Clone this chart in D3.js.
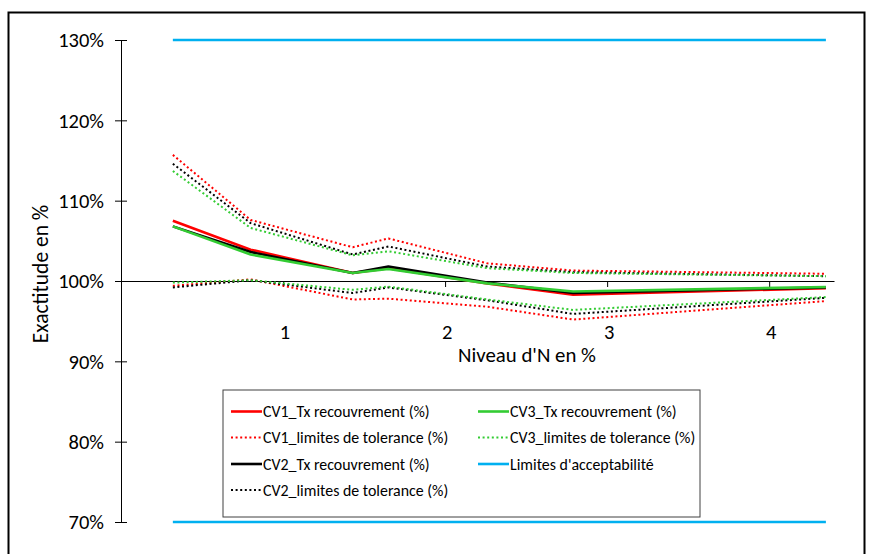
<!DOCTYPE html>
<html>
<head>
<meta charset="utf-8">
<script src="https://cdn.jsdelivr.net/npm/d3@7"></script>
<style>
  html, body { margin: 0; padding: 0; background: #fff; }
  svg { display: block; font-family: Calibri, Carlito, Lato, sans-serif; }
</style>
</head>
<body>
<svg id="chart" width="872" height="554"></svg>
<script>
// ---- data ----
const xValues = [0.32, 0.80, 1.43, 1.65, 2.26, 2.79, 4.35];
const cv1Tx    = [107.5, 103.9, 101.0, 101.6, 99.7, 98.3, 99.1];
const cv1Upper = [115.7, 107.6, 104.2, 105.3, 102.2, 101.3, 100.9];
const cv1Lower = [99.4, 100.2, 97.7, 97.8, 96.8, 95.2, 97.5];
const cv2Tx    = [106.8, 103.6, 101.0, 101.8, 99.8, 98.5, 99.2];
const cv2Upper = [114.6, 107.2, 103.3, 104.3, 101.8, 101.1, 100.6];
const cv2Lower = [99.2, 100.1, 98.5, 99.2, 97.6, 95.9, 97.9];
const cv3Tx    = [106.8, 103.3, 101.0, 101.5, 99.7, 98.7, 99.25];
const cv3Upper = [113.7, 106.6, 103.2, 103.7, 101.6, 101.0, 100.6];
const cv3Lower = [99.8, 100.1, 98.9, 99.3, 97.7, 96.4, 98.0];
const limitX = [0.32, 4.35];
const limitHigh = [130, 130];
const limitLow = [70, 70];
const xTicks = [1, 2, 3, 4];
const yTicks = [70, 80, 90, 100, 110, 120, 130];
const legendLabels = [
  "CV1_Tx recouvrement (%)", "CV1_limites de tolerance (%)",
  "CV2_Tx recouvrement (%)", "CV2_limites de tolerance (%)",
  "CV3_Tx recouvrement (%)", "CV3_limites de tolerance (%)",
  "Limites d'acceptabilité"
];

const RED = "#FF0000", BLACK = "#000000", GREEN = "#33CC33", BLUE = "#00B0F0";

const svg = d3.select("#chart");

// outer frame
svg.append("rect").attr("x", 8.5).attr("y", 12.5).attr("width", 856).attr("height", 560)
  .attr("fill", "none").attr("stroke", "#000").attr("stroke-width", 2);

const x = d3.scaleLinear().domain([0, 4.4]).range([121, 834]);
const y = d3.scaleLinear().domain([70, 130]).range([522, 40]);

// y axis
const yAxis = svg.append("g").attr("transform", `translate(${x(0)},0)`)
  .call(d3.axisLeft(y).tickValues(yTicks).tickSizeInner(0).tickSizeOuter(0).tickFormat(() => ""));
yAxis.select(".domain").attr("stroke", "#000").attr("stroke-width", 1);
yAxis.selectAll(".tick line").remove();
yAxis.selectAll(".tick").append("line").attr("x1", -6).attr("x2", 6).attr("stroke", "#000");
yAxis.selectAll(".tick text").remove();
svg.append("g").selectAll("text").data(yTicks).join("text")
  .attr("x", 104).attr("y", d => y(d)).attr("dy", "0.35em")
  .attr("text-anchor", "end").attr("font-size", 20.5).attr("fill", "#000")
  .text(d => d + "%");

// x axis at 100%
const xAxis = svg.append("g").attr("transform", `translate(0,${y(100)})`)
  .call(d3.axisBottom(x).tickValues(xTicks).tickSizeInner(6).tickSizeOuter(0).tickFormat(""));
xAxis.select(".domain").attr("stroke", "#000").attr("stroke-width", 1.2);
xAxis.selectAll(".tick line").attr("stroke", "#000");
svg.append("g").selectAll("text").data(xTicks).join("text")
  .attr("x", d => x(d) + 2).attr("y", 339)
  .attr("text-anchor", "middle").attr("font-size", 20.5).attr("fill", "#000")
  .text(d => d);

// axis titles
svg.append("text").attr("x", 527).attr("y", 362).attr("text-anchor", "middle")
  .attr("font-size", 20.8).attr("fill", "#000").text("Niveau d'N en %");
svg.append("text").attr("transform", "translate(48,274) rotate(-90)")
  .attr("text-anchor", "middle").attr("font-size", 21.5).attr("fill", "#000").text("Exactitude en %");

// lines
const line = d3.line().x(d => x(d[0])).y(d => y(d[1]));
const zipX = (arr, xs = xValues) => xs.map((v, i) => [v, arr[i]]);

const series = [
  { data: cv1Tx, color: RED, dotted: false },
  { data: cv1Upper, color: RED, dotted: true },
  { data: cv1Lower, color: RED, dotted: true },
  { data: cv2Tx, color: BLACK, dotted: false },
  { data: cv2Upper, color: BLACK, dotted: true },
  { data: cv2Lower, color: BLACK, dotted: true },
  { data: cv3Tx, color: GREEN, dotted: false },
  { data: cv3Upper, color: GREEN, dotted: true },
  { data: cv3Lower, color: GREEN, dotted: true }
];
const gLines = svg.append("g");
series.forEach(s => {
  gLines.append("path").attr("d", line(zipX(s.data)))
    .attr("fill", "none").attr("stroke", s.color)
    .attr("stroke-width", s.dotted ? 2 : 2.6)
    .attr("stroke-dasharray", s.dotted ? "2 2.6" : null)
    .attr("stroke-linejoin", "round");
});
[limitHigh, limitLow].forEach(arr => {
  gLines.append("path").attr("d", line(zipX(arr, limitX)))
    .attr("fill", "none").attr("stroke", BLUE).attr("stroke-width", 2.6);
});

// legend
const lg = svg.append("g");
lg.append("rect").attr("x", 223).attr("y", 390).attr("width", 477).attr("height", 127)
  .attr("fill", "#fff").attr("stroke", "#404040").attr("stroke-width", 1);
const legendItems = [
  { label: legendLabels[0], color: RED, dotted: false, col: 0, row: 0 },
  { label: legendLabels[1], color: RED, dotted: true, col: 0, row: 1 },
  { label: legendLabels[2], color: BLACK, dotted: false, col: 0, row: 2 },
  { label: legendLabels[3], color: BLACK, dotted: true, col: 0, row: 3 },
  { label: legendLabels[4], color: GREEN, dotted: false, col: 1, row: 0 },
  { label: legendLabels[5], color: GREEN, dotted: true, col: 1, row: 1 },
  { label: legendLabels[6], color: BLUE, dotted: false, col: 1, row: 2 }
];
const colX = [231, 478];
const rowY = [411.5, 437.5, 464, 490];
legendItems.forEach(it => {
  const lx = colX[it.col], ly = rowY[it.row];
  lg.append("line").attr("x1", lx).attr("x2", lx + 31).attr("y1", ly).attr("y2", ly)
    .attr("stroke", it.color).attr("stroke-width", it.dotted ? 2 : 2.6)
    .attr("stroke-dasharray", it.dotted ? "2 2.6" : null);
  lg.append("text").attr("x", lx + 32).attr("y", ly).attr("dy", "0.35em")
    .attr("font-size", 15.9).attr("fill", "#000").text(it.label);
});
</script>
</body>
</html>
